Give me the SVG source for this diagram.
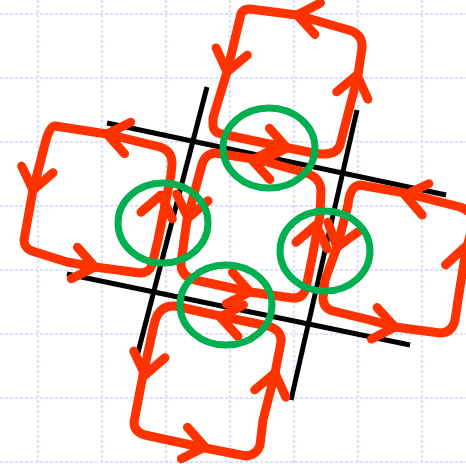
<svg xmlns="http://www.w3.org/2000/svg" xmlns:xlink="http://www.w3.org/1999/xlink" width="466" height="464" viewBox="0 0 466 464">
<style>
.grid{stroke:#dbe1f8;stroke-width:2.2;stroke-dasharray:3 2;fill:none}
.bar{stroke:#000;stroke-width:5;fill:none;stroke-linecap:butt}
.loop{stroke:#ff3300;stroke-width:9;fill:none;stroke-linecap:round;stroke-linejoin:round}
.ring{stroke:#00b050;stroke-width:7;fill:none}
</style>
<defs>
<path id="chev" d="M-21,-16 L0,0 L-21,16"/>
</defs>
<rect width="466" height="464" fill="#fff"/>
<g id="grid" class="grid">
<path d="M38,0V464M102,0V464M166,0V464M230,0V464M294,0V464M358,0V464M422,0V464"/>
<path d="M0,14H466M0,78H466M0,142H466M0,206H466M0,270H466M0,334H466M0,398H466M0,462H466"/>
</g>
<g id="hash" class="bar">
<line x1="107" y1="123" x2="446" y2="195"/>
<line x1="67" y1="274" x2="410" y2="345"/>
<line x1="207" y1="87" x2="136" y2="360"/>
<line x1="357" y1="110" x2="291" y2="400"/>
</g>
<g id="connectors">
<g id="loop-top" class="loop">
<path d="M213,118 L213,126 Q214,133 222,134 L250,140 L313,153 Q336,157 340,145 L358,75 L362,48 Q363,36 352,31 L297,15 L250,9 Q241,9 240,18 L227,72 Z"/>
<use href="#chev" transform="translate(227,72) rotate(103)"/>
<use href="#chev" transform="translate(297,15) rotate(190)"/>
<use href="#chev" transform="translate(357,75) rotate(-77)"/>
<use href="#chev" transform="translate(287,148) rotate(11)"/>
</g>
<g id="loop-left" class="loop">
<path d="M55,126 L107,134 L160,147 Q172,151 172,163 L171,175 L158,240 L152,265 Q149,273 140,273 L95,267 L67,262 L32,251 Q24,248 24,240 L33,190 L46,140 Q50,126 55,126 Z"/>
<use href="#chev" transform="translate(107,134) rotate(191)"/>
<use href="#chev" transform="translate(33,190) rotate(102)"/>
<use href="#chev" transform="translate(95,267) rotate(11)"/>
<use href="#chev" transform="translate(161,195) rotate(-78)"/>
</g>
<g id="loop-right" class="loop">
<path d="M360,185 L405,193 L460,207 Q475,212 473,225 L466,250 L458,300 L455,320 Q452,333 440,333 L395,327 L370,320 L333,311 Q323,308 323,298 L325,280 L337,247 L348,205 Q350,186 360,185 Z"/>
<use href="#chev" transform="translate(405,195) rotate(192)"/>
<use href="#chev" transform="translate(337,247) rotate(107)"/>
<use href="#chev" transform="translate(395,327) rotate(10)"/>
<use href="#chev" transform="translate(465,247) rotate(-80)"/>
</g>
<g id="loop-bottom" class="loop">
<path d="M175,306 L220,316 L268,326 Q282,330 281,342 L275,373 L263,420 L260,445 Q257,455 246,456 L205,448 L145,435 Q134,432 134,422 L143,375 L154,325 Q158,305 175,306 Z"/>
<use href="#chev" transform="translate(220,317) rotate(190)"/>
<use href="#chev" transform="translate(145,375) rotate(102)"/>
<use href="#chev" transform="translate(205,447) rotate(11)"/>
<use href="#chev" transform="translate(275,373) rotate(-77)"/>
</g>
<g id="loop-center" class="loop">
<path d="M215,153 L260,160 L306,173 Q320,177 321,190 L320,215 L313,253 L306,288 Q303,299 292,298 L250,292 L195,280 Q180,276 181,262 L187,220 L201,168 Q204,154 215,153 Z"/>
<use href="#chev" transform="translate(252,160) rotate(190)"/>
<use href="#chev" transform="translate(188,218) rotate(102)"/>
<use href="#chev" transform="translate(250,292) rotate(11)"/>
<use href="#chev" transform="translate(316,225) rotate(-78)"/>
</g>
</g>
<g id="rings" class="ring">
<ellipse id="ring-top" cx="269" cy="148" rx="46" ry="40"/>
<ellipse id="ring-left" cx="163" cy="223" rx="45" ry="40"/>
<ellipse id="ring-right" cx="325" cy="251" rx="45" ry="40"/>
<ellipse id="ring-bottom" cx="226" cy="305" rx="46" ry="40"/>
</g>
</svg>
